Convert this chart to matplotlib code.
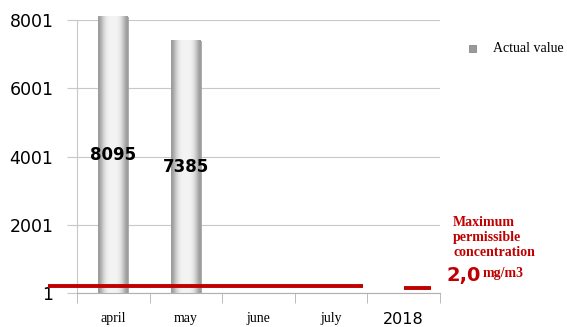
import numpy as np
import matplotlib
matplotlib.use("Agg")
import matplotlib.pyplot as plt

categories = ["april", "may", "june", "july", "2018"]
actual = [8095, 7385, 0, 0, 0]
bar_labels = ["8095", "7385"]
yticks = [1, 2001, 4001, 6001, 8001]
limit_main = 200
limit_2018 = 150

fig = plt.figure(figsize=(5.67, 3.27), dpi=100)
ax = fig.add_axes([77 / 567, 1 - 293 / 327, 363 / 567, 273 / 327])

x = np.arange(len(categories))
grad = np.array([[0.6, 0.8, 0.92, 0.95, 0.96, 0.95, 0.92, 0.8, 0.6]])
bars = ax.bar(x[:2], actual[:2], width=0.41, bottom=1, color="#ececec",
              edgecolor="#a0a0a0", linewidth=0.6, zorder=2, clip_on=False)
for b in bars:
    im = ax.imshow(grad, cmap="gray", vmin=0, vmax=1, aspect="auto",
                   extent=[b.get_x(), b.get_x() + b.get_width(), 1, 1 + b.get_height()],
                   zorder=2.1, interpolation="bicubic")
    im.set_clip_path(b)
    im.set_clip_on(False)

for i, t in enumerate(bar_labels):
    ax.text(x[i], actual[i] / 2, t, ha="center", va="center",
            fontsize=12, fontweight="bold", family="DejaVu Sans", zorder=5)

# maximum permissible concentration
ax.plot([-0.9, 3.44], [limit_main, limit_main], color="#c00000", lw=2.8,
        clip_on=False, zorder=4, solid_capstyle="butt")
ax.plot([4.0, 4.37], [limit_2018, limit_2018], color="#c00000", lw=2.8,
        clip_on=False, zorder=4, solid_capstyle="butt")

ax.set_xlim(-0.5, 4.5)
ax.set_ylim(1, 8001)
ax.set_yticks(yticks)
ax.set_yticklabels([str(v) for v in yticks], fontsize=12.5, family="DejaVu Sans")
ax.grid(axis="y", color="#c8c8c8", lw=0.8, zorder=0)
ax.tick_params(axis="y", length=7, color="#c8c8c8", pad=10)

ax.set_xticks(x)
ax.set_xticklabels(categories, family="Liberation Serif", fontsize=10)
ax.get_xticklabels()[-1].set_family("DejaVu Sans")
ax.get_xticklabels()[-1].set_fontsize(11.5)
ax.set_xticks(np.arange(-0.5, 5, 1), minor=True)
ax.tick_params(axis="x", which="major", length=0, pad=14)
ax.tick_params(axis="x", which="minor", length=7, color="#b0b0b0")

for s in ["top", "right"]:
    ax.spines[s].set_visible(False)
ax.spines["left"].set_color("#c8c8c8")
ax.spines["bottom"].set_color("#b0b0b0")

# legend
fig.patches.append(plt.Rectangle((469 / 567, 1 - 52 / 327), 7 / 567, 7 / 327,
                                 transform=fig.transFigure, facecolor="#9a9a9a",
                                 edgecolor="#7a7a7a", lw=0.5))
fig.text(493 / 567, 1 - 49 / 327, "Actual value", family="Liberation Serif",
         fontsize=10, va="center")

fig.text(453 / 567, 1 - 237 / 327, "Maximum\npermissible\nconcentration",
         family="Liberation Serif", fontweight="bold", color="#c00000",
         fontsize=10, va="center", linespacing=1.2)
fig.text(446 / 567, 1 - 275 / 327, "2,0", family="DejaVu Sans", fontweight="bold",
         color="#c00000", fontsize=14, va="center")
fig.text(483 / 567, 1 - 273 / 327, "mg/m3", family="Liberation Serif",
         fontweight="bold", color="#c00000", fontsize=10, va="center")

fig.savefig("out.png", dpi=100)
